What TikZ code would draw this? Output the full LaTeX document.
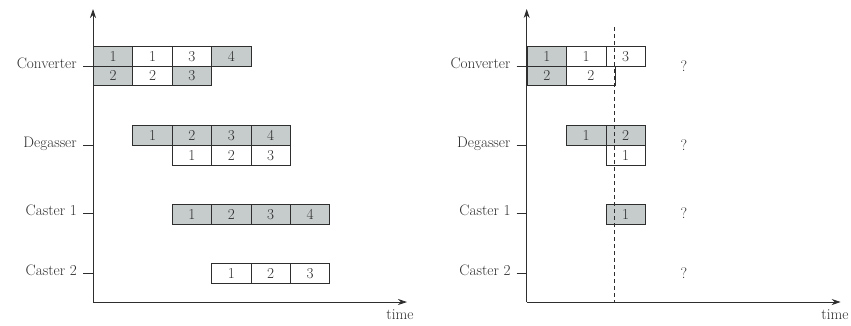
\documentclass[tikz,border=0pt]{standalone}
\usetikzlibrary{arrows.meta}
\definecolor{inkgray}{HTML}{2E2E2E}
\definecolor{jobgray}{HTML}{C6CBCB}
\begin{document}
\begin{tikzpicture}[x=1pt,y=-1pt,
  every node/.style={font=\fontsize{15.2}{18}\selectfont, text=inkgray},
  cell/.style={draw=inkgray, line width=0.8pt, anchor=north west, inner sep=0pt,
               minimum width=39.4pt, minimum height=19.7pt},
  gcell/.style={cell, fill=jobgray},
  wcell/.style={cell, fill=white},
  axis/.style={draw=inkgray, line width=0.8pt, -{Stealth[length=9pt,width=6pt]}},
  tick/.style={draw=inkgray, line width=0.8pt},
  rowlabel/.style={anchor=mid east, inner sep=0pt},
]
\useasboundingbox (0,0) rectangle (851,325);

% ---------------- left schedule ----------------
\coordinate (lo) at (93,302);
\coordinate (ltop) at (93,9);
\coordinate (lright) at (407,302);
\draw[axis] (lo) -- (ltop);
\draw[axis] (lo) -- (lright);
\node (ltime) at (400,315) {time};

% row labels and ticks
\foreach \nm/\lab/\yy in {lconv/Converter/66, ldeg/Degasser/145, lcA/Caster 1/213.3, lcB/Caster 2/273.3}{
  \coordinate (\nm t) at (83,\yy);
  \coordinate (\nm a) at (93,\yy);
  \draw[tick] (\nm t) -- (\nm a);
  \node[rowlabel] (\nm) at (77,\yy) {\lab};
}

% Converter
\node[gcell] (lc11) at (93,46) {1};
\node[wcell] (lc12) at (132.4,46) {1};
\node[wcell] (lc13) at (171.8,46) {3};
\node[gcell] (lc14) at (211.2,46) {4};
\node[gcell] (lc21) at (93,65.7) {2};
\node[wcell] (lc22) at (132.4,65.7) {2};
\node[gcell] (lc23) at (171.8,65.7) {3};
% Degasser
\node[gcell] (ld11) at (132.4,125.3) {1};
\node[gcell] (ld12) at (171.8,125.3) {2};
\node[gcell] (ld13) at (211.2,125.3) {3};
\node[gcell] (ld14) at (250.6,125.3) {4};
\node[wcell] (ld21) at (171.8,145) {1};
\node[wcell] (ld22) at (211.2,145) {2};
\node[wcell] (ld23) at (250.6,145) {3};
% Caster 1
\node[gcell] (la1) at (171.8,203.9) {1};
\node[gcell] (la2) at (211.2,203.9) {2};
\node[gcell] (la3) at (250.6,203.9) {3};
\node[gcell] (la4) at (290,203.9) {4};
% Caster 2
\node[wcell] (lb1) at (211.2,263.4) {1};
\node[wcell] (lb2) at (250.6,263.4) {2};
\node[wcell] (lb3) at (290,263.4) {3};

% ---------------- right schedule ----------------
\coordinate (ro) at (526.7,302);
\coordinate (rtop) at (526.7,9);
\coordinate (rright) at (840.7,302);
\draw[axis] (ro) -- (rtop);
\draw[axis] (ro) -- (rright);
\node (rtime) at (835,315) {time};

\foreach \nm/\lab/\yy in {rconv/Converter/66, rdeg/Degasser/145, rcA/Caster 1/213.3, rcB/Caster 2/273.3}{
  \coordinate (\nm t) at (516.7,\yy);
  \coordinate (\nm a) at (526.7,\yy);
  \draw[tick] (\nm t) -- (\nm a);
  \node[rowlabel] (\nm) at (510.7,\yy) {\lab};
  \node (\nm q) at (684,\yy) {?};
}

% Converter
\node[gcell] (rc11) at (526.7,46) {1};
\node[wcell] (rc12) at (566.1,46) {1};
\node[wcell] (rc13) at (605.5,46) {3};
\node[gcell] (rc21) at (526.7,65.7) {2};
\node[wcell, minimum width=48.6pt] (rc22) at (566.1,65.7) {2};
% Degasser
\node[gcell] (rd11) at (566.1,125.3) {1};
\node[gcell] (rd12) at (605.5,125.3) {2};
\node[wcell] (rd21) at (605.5,145) {1};
% Caster 1
\node[gcell] (ra1) at (605.5,203.9) {1};

% current time
\coordinate (now) at (614.7,27);
\coordinate (nowbase) at (614.7,302);
\draw[inkgray, line width=0.8pt, dash pattern=on 4pt off 3pt] (now) -- (nowbase);

\end{tikzpicture}
\end{document}
